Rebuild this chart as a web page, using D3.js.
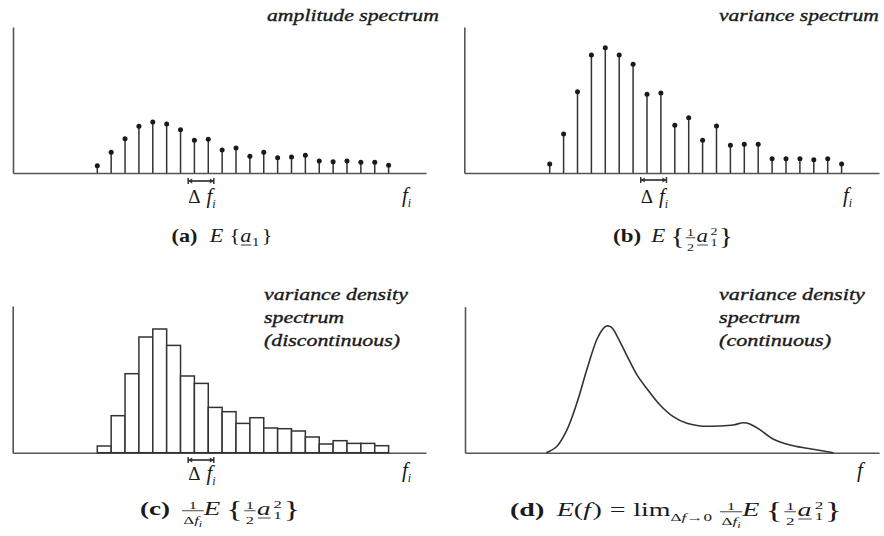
<!DOCTYPE html>
<html><head><meta charset="utf-8">
<script src="https://cdn.jsdelivr.net/npm/d3@7"></script>
<style>body{margin:0;background:#fff} text{font-family:'Liberation Serif',serif}</style>
</head><body>
<svg id="chart" width="884" height="536"></svg>
<script>
// ---------- DATA ----------
const binIndex = [0,1,2,3,4,5,6,7,8,9,10,11,12,13,14,15,16,17,18,19,20,21];
const amplitude = [7.3,20.7,34.3,46.7,51,49,43.3,32.7,33.7,23,25,16.7,20.7,15.3,16,17.7,12,11.3,12,10.7,10.7,7.7];
const variance  = [9,39,81.3,118,125.3,118,108.7,78.7,80,47.7,55.3,32.7,47,27.7,28.7,28.7,14.3,14.3,14.3,13.3,14.3,9];
const varianceDensity = [6.7,37,79,115.7,123.7,107.3,76.7,69.3,45.3,41,29.3,35,24.7,24,21.7,15.7,8.7,12,9.3,9.3,7];
const contFreq = [19.6,22.1,24.6,27.0,29.4,31.8,33.4,34.2,35.4,36.6,39.1,41.5,43.9,47.1,50.3,53.6,56.8,61.6,64.8,67.2,68.8,71.3,74.5,78.5,82.6,89.0];
const contDens = [0,4.1,15.5,33.8,56.6,77.2,85.1,86.8,85.9,80.6,66.5,53.5,44.0,32.7,24.7,20.1,18.3,18.3,19.0,20.5,19.7,15.6,9.2,5.3,3.0,0];
const deltaF = [6.55, 8.4];
const titleA = ["amplitude spectrum"];
const titleB = ["variance spectrum"];
const titleC = ["variance density","spectrum","(discontinuous)"];
const titleD = ["variance density","spectrum","(continuous)"];

// ---------- SETUP ----------
const INK = "#1a1a1a", AXIS = "#555";
const svg = d3.select("#chart");

function panel(o){
  const g = svg.append("g");
  const y = d3.scaleLinear().domain([0, o.yMax]).range([o.yBase, o.yTop]);
  const x = d3.scaleLinear().domain(o.xDom).range(o.xRng);
  const xAxisScale = x.copy().domain([x.invert(o.x0), x.invert(o.x1)]).range([o.x0, o.x1]);
  g.append("g").attr("transform", `translate(0,${o.yBase})`)
    .call(d3.axisBottom(xAxisScale).tickValues([]).tickSizeOuter(0));
  g.append("g").attr("transform", `translate(${o.x0},0)`)
    .call(d3.axisLeft(y).tickValues([]).tickSizeOuter(0));
  g.selectAll(".domain").attr("stroke", AXIS).attr("stroke-width", 1.6);
  return {g, x, y};
}

function stems(p, vals){
  p.g.selectAll(".stem").data(vals).join("line")
    .attr("x1", (d,i)=>p.x(binIndex[i])).attr("x2", (d,i)=>p.x(binIndex[i]))
    .attr("y1", p.y(0)).attr("y2", d=>p.y(d))
    .attr("stroke", "#333").attr("stroke-width", 1.5);
  p.g.selectAll(".dot").data(vals).join("circle")
    .attr("cx", (d,i)=>p.x(binIndex[i])).attr("cy", d=>p.y(d)).attr("r", 2.5)
    .attr("fill", INK);
}

function deltaMarker(p, yy, labelY){
  const x1 = p.x(deltaF[0]), x2 = p.x(deltaF[1]);
  const g = p.g.append("g").attr("stroke", "#333").attr("fill", "#333");
  g.append("line").attr("x1", x1).attr("x2", x2).attr("y1", yy).attr("y2", yy).attr("stroke-width", 1.7);
  [[x1,1],[x2,-1]].forEach(([xx,s])=>{
    g.append("line").attr("x1", xx).attr("x2", xx).attr("y1", yy-3).attr("y2", yy+3).attr("stroke-width", 1.5);
    g.append("path").attr("d", `M${xx},${yy}L${xx+4*s},${yy-2.4}L${xx+4*s},${yy+2.4}Z`).attr("stroke", "none");
  });
  mathRun(p.g.append("g"), [{t:"Δ",size:19},{sp:6},{t:"f",i:1,size:21},{t:"i",i:1,size:12,dy:5}], x1, labelY, 18);
}

function axisLabel(p, xx, yy, sub){
  const items = [{t:"f",i:1,size:21}];
  if (sub) items.push({t:"i",i:1,size:12,dy:5});
  mathRun(p.g.append("g"), items, xx, yy, 18);
}

function titleBlock(lines, anchorX, align, baselines, targetW){
  const g = svg.append("g").attr("fill", INK).attr("stroke", INK).attr("stroke-width", 0.35);
  const nodes = lines.map(s=> g.append("text").attr("font-style","italic")
      .attr("font-size", 17).text(s));
  const w0 = nodes[0].node().getComputedTextLength();
  const sx = targetW / w0;
  nodes.forEach((n,k)=>{
    const tx = align === "right" ? anchorX - targetW : anchorX;
    n.attr("transform", `translate(${tx},${baselines[k]}) scale(${sx},1)`);
  });
}

// ----- tiny math layout -----
function mathRun(g, items, x0, y0, base){
  let x = x0;
  for (const it of items){
    if (it.sp){ x += it.sp; continue; }
    if (it.frac){
      const gn = g.append("g"), gd = g.append("g");
      const wn = mathRun(gn, it.frac[0], 0, y0-6, 11);
      const wd = mathRun(gd, it.frac[1], 0, y0+9, 11);
      const w = Math.max(wn, wd) + 2;
      gn.attr("transform", `translate(${x + (w-wn)/2},0)`);
      gd.attr("transform", `translate(${x + (w-wd)/2},0)`);
      g.append("line").attr("x1", x).attr("x2", x+w).attr("y1", y0-4.2).attr("y2", y0-4.2)
        .attr("stroke", INK).attr("stroke-width", 0.8);
      x += w; continue;
    }
    if (it.ss){
      const a = g.append("text").attr("x", x).attr("y", y0-7).attr("font-size", 11).attr("fill", INK).text(it.ss[0]);
      const b = g.append("text").attr("x", x).attr("y", y0+4).attr("font-size", 11).attr("fill", INK).text(it.ss[1]);
      x += Math.max(a.node().getComputedTextLength(), b.node().getComputedTextLength());
      continue;
    }
    const t = g.append("text").attr("x", x).attr("y", y0 + (it.dy||0))
      .attr("font-size", it.size || base)
      .attr("font-style", it.i ? "italic" : "normal")
      .attr("font-weight", it.b ? "bold" : "normal")
      .attr("fill", INK).text(it.t);
    const w = t.node().getComputedTextLength();
    if (it.u) g.append("line").attr("x1", x+0.5).attr("x2", x+w).attr("y1", y0+3).attr("y2", y0+3)
      .attr("stroke", INK).attr("stroke-width", 0.8);
    x += w;
  }
  return x - x0;
}

function caption(items, cx, baseline, targetW){
  const g = svg.append("g");
  const inner = g.append("g");
  const w = mathRun(inner, items, 0, baseline, 18);
  const sx = targetW / w;
  g.attr("transform", `translate(${cx - targetW/2},0) scale(${sx},1)`);
}

// ---------- PANEL A ----------
const pA = panel({x0:13, x1:426, yBase:173, yTop:27, yMax:146, xDom:[0,21], xRng:[97.3,388.6]});
stems(pA, amplitude);
deltaMarker(pA, 181, 203);
axisLabel(pA, 402, 202, true);
titleBlock(titleA, 439, "right", [21], 172);

// ---------- PANEL B ----------
const pB = panel({x0:464.3, x1:879, yBase:173, yTop:27, yMax:146, xDom:[0,21], xRng:[549.7,841.6]});
stems(pB, variance);
deltaMarker(pB, 180, 203);
axisLabel(pB, 843, 202, true);
titleBlock(titleB, 879, "right", [21], 160);

// ---------- PANEL C ----------
const pC = panel({x0:12.7, x1:426, yBase:452.7, yTop:306, yMax:146.7, xDom:[0,21], xRng:[97.3,388.6]});
pC.g.selectAll(".bar").data(varianceDensity).join("rect")
  .attr("x", (d,i)=>pC.x(binIndex[i])).attr("width", (d,i)=>pC.x(binIndex[i+1]) - pC.x(binIndex[i]))
  .attr("y", d=>pC.y(d)).attr("height", d=>pC.y(0)-pC.y(d))
  .attr("fill", "#fff").attr("stroke", "#333").attr("stroke-width", 1.5);
deltaMarker(pC, 460, 480);
axisLabel(pC, 402, 477, true);
titleBlock(titleC, 264, "left", [300,323,346], 144);

// ---------- PANEL D ----------
const pD = panel({x0:465, x1:879, yBase:452.7, yTop:306.7, yMax:100, xDom:[0,100], xRng:[465,879]});
const pts = contFreq.map((f,i)=>[f, contDens[i]]);
pD.g.append("path").datum(pts)
  .attr("d", d3.line().x(d=>pD.x(d[0])).y(d=>pD.y(d[1])).curve(d3.curveCatmullRom.alpha(0.5)))
  .attr("fill", "none").attr("stroke", "#333").attr("stroke-width", 1.6);
axisLabel(pD, 857, 477, false);
titleBlock(titleD, 719, "left", [300,323,346], 146);

// ---------- CAPTIONS ----------
const half = {frac:[[{t:"1"}],[{t:"2"}]]};
const invDf = {frac:[[{t:"1"}],[{t:"Δ"},{t:"f",i:1},{t:"i",i:1,size:8,dy:3}]]};
const brL = {t:"{", size:23, dy:2}, brR = {t:"}", size:23, dy:2};
const a21 = [{t:"a",i:1,u:1},{sp:2},{ss:["2","1"]}];
caption([{t:"(a)",b:1},{sp:10},{t:"E",i:1},{sp:5},{t:"{"},{t:"a",i:1,u:1},{sp:0.5},{t:"1",size:12,dy:4},{sp:2},{t:"}"}], 222, 242, 101);
caption([{t:"(b)",b:1},{sp:8},{t:"E",i:1},{sp:4},brL,{sp:1},half,{sp:1},...a21,{sp:1},brR], 673, 242, 120);
caption([{t:"(c)",b:1},{sp:8},invDf,{t:"E",i:1},{sp:4},brL,{sp:1},half,{sp:1},...a21,{sp:1},brR], 220, 515, 160);
caption([{t:"(d)",b:1},{sp:8},{t:"E",i:1},{t:"("},{t:"f",i:1},{sp:1},{t:")"},{sp:5},{t:"="},{sp:5},{t:"lim"},
  {t:"Δ",size:11,dy:5},{t:"f",i:1,size:11,dy:5},{t:"→0",size:11,dy:5},{sp:5},invDf,{t:"E",i:1},{sp:4},brL,{sp:1},half,{sp:1},...a21,{sp:1},brR], 676, 516, 332);
</script>
</body></html>
